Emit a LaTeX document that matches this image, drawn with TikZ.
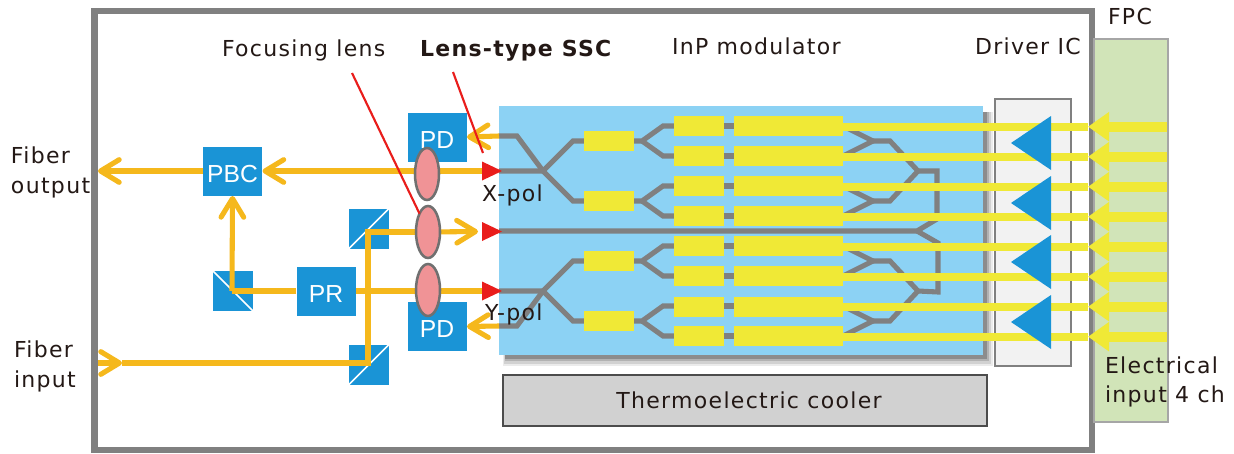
\documentclass[tikz,border=0pt]{standalone}
\usepackage{fontspec}
\setmainfont{DejaVu Sans}
\newfontfamily\lab[LetterSpace=6]{DejaVu Sans}
\newfontfamily\boxf{Liberation Sans}
\usetikzlibrary{arrows.meta,shapes.geometric}
\definecolor{frameg}{HTML}{808080}
\definecolor{fpcg}{HTML}{D1E4B8}
\definecolor{chipb}{HTML}{8CD2F4}
\definecolor{blk}{HTML}{1A94D6}
\definecolor{yel}{HTML}{F0E936}
\definecolor{org}{HTML}{F5B81C}
\definecolor{lensc}{HTML}{F09396}
\definecolor{lensg}{HTML}{707070}
\definecolor{redc}{HTML}{E91D1B}
\definecolor{txt}{HTML}{231815}
\tikzset{
  every node/.style={inner sep=0pt,outer sep=0pt},
  lbl/.style={text=txt,font=\lab\fontsize{16.5pt}{22.5pt}\selectfont,align=left},
  blockb/.style={fill=blk,draw=white,line width=0.4pt,text=white,font=\boxf\fontsize{18.5pt}{20pt}\selectfont,minimum width=45pt,minimum height=37.5pt,text height=17pt,text depth=0pt},
  splitb/.style={fill=blk,minimum width=30pt,minimum height=30pt},
  diag/.style={draw=white,line width=1.2pt},
  lensn/.style={ellipse,fill=lensc,draw=lensg,line width=1.9pt,minimum width=18pt,minimum height=39pt},
  smally/.style={fill=yel,minimum width=37.5pt,minimum height=15pt},
  largey/.style={fill=yel,minimum width=81.75pt,minimum height=15pt},
  wg/.style={draw=frameg,line width=3.8pt,line join=miter},
  beam/.style={draw=org,line width=3.8pt},
  beamarrow/.style={beam,-{Straight Barb[length=14pt,width=17pt,round]}},
  sigthin/.style={draw=yel,line width=6pt},
  sigin/.style={draw=yel,line width=7.5pt,-{Triangle[length=15.75pt,width=21pt]}},
  redl/.style={draw=redc,line width=1.6pt},
}
\begin{document}
\begin{tikzpicture}[x=0.75pt,y=-0.75pt]
\useasboundingbox (0,0) rectangle (1234,453);
% housing and carriers
\node[fill=white,draw=frameg,line width=4.8pt,minimum width=748pt,minimum height=329.25pt,anchor=north west] (housing) at (94.5,11) {};
\node[fill=fpcg,draw=black!35,line width=1.5pt,minimum width=55.5pt,minimum height=287.25pt,anchor=north west] (fpc) at (1094,39) {};
\node[fill=white!95!black,draw=frameg,line width=2.2pt,minimum width=57pt,minimum height=200.25pt,anchor=north west] (driver) at (995,99) {};
% chip shadow
\fill[black!8] (503,112) rectangle (993,366);
\fill[black!18] (504,112) rectangle (991,364);
\fill[black!30] (505,112) rectangle (989,361);
\fill[black!45] (505,112) rectangle (987,359);
\node[fill=chipb,minimum width=363pt,minimum height=186.75pt,anchor=north west] (chip) at (499,106) {};
\node[fill=black!18,draw=black!70,line width=1.5pt,minimum width=363pt,minimum height=38.25pt,anchor=north west,text=txt,font=\lab\fontsize{16.5pt}{20pt}\selectfont] (tec) at (503,375) {\hspace*{6pt}Thermoelectric cooler};
% waveguides
\coordinate (xin) at (499,171); \coordinate (xs) at (543,171);
\coordinate (yin) at (499,291); \coordinate (ys) at (543,291);
\coordinate (xm) at (499,136); \coordinate (ym) at (499,326);
\coordinate (lo) at (499,231); \coordinate (los) at (917,231);
\draw[wg] (xm) -- (517,136) -- (xs) -- (573,201) -- (584,201);
\draw[wg] (xin) -- (xs) -- (573,141) -- (584,141);
\draw[wg] (ym) -- (517,326) -- (ys) -- (573,261) -- (584,261);
\draw[wg] (yin) -- (ys) -- (573,321) -- (584,321);
\draw[wg] (lo) -- (los) -- (937,219) -- (937,171) -- (918,171);
\draw[wg] (los) -- (938,243) -- (938,292) -- (918,291);
\foreach \yc/\a/\b in {141/126/156,201/186/216,261/246/276,321/306/336}{
  \draw[wg] (633,\yc) -- (642,\yc) -- (663,\a) -- (674,\a);
  \draw[wg] (642,\yc) -- (663,\b) -- (674,\b);
  \draw[wg] (724,\a) -- (734,\a); \draw[wg] (724,\b) -- (734,\b);
  \draw[wg] (843,\a) -- (873,\yc) -- (843,\b);
}
\foreach \m/\t/\c in {918/141/171,918/201/171,918/261/291,918/321/291}{
  \draw[wg] (873,\t) -- (890,\t) -- (\m,\c);
}
% modulator pads
\foreach \n/\yc in {1/141,2/201,3/261,4/321}{ \node[smally] (ps\n) at (608.5,\yc) {}; }
\foreach \n/\yc in {1/126,2/156,3/186,4/216,5/246,6/276,7/306.5,8/336}{
  \node[smally] (sa\n) at (699,\yc) {};
  \node[largey] (la\n) at (788.5,\yc) {};
}
% electrical signals
\foreach \n/\yc in {1/126.7,2/156.7,3/186.7,4/216.7,5/246.7,6/276.7,7/306.7,8/336.7}{
  \coordinate (ei\n) at (1167,\yc);
  \coordinate (et\n) at (1088,\yc);
  \coordinate (em\n) at (843,\yc);
  \draw[sigthin] (et\n) -- (em\n);
  \draw[sigin] (ei\n) -- (et\n);
}
% driver triangles
\foreach \yc in {143,203,262,322}{
  \fill[blk] (1011,\yc) -- (1051,\yc-27) -- (1051,\yc+27) -- cycle;
}
% optical blocks
\node[splitb] (bsa) at (233,291) {};
\draw[diag] (bsa.north west) -- (bsa.south east);
\node[splitb] (bsb) at (368.5,229) {};
\draw[diag] (bsb.south west) -- (bsb.north east);
\node[splitb] (bsc) at (368.5,365) {};
\draw[diag] (bsc.south west) -- (bsc.north east);
\node[blockb] (pbc) at (232.5,171) {PBC};
\node[blockb] (pr) at (326,291) {PR};
\node[blockb] (pdx) at (437,137) {PD};
\node[blockb] (pdy) at (437,326.5) {PD};
% beams
\coordinate (fo) at (98,171); \coordinate (fi) at (98,363); \coordinate (fiarrow) at (122,363);
\coordinate (bsamid) at (232,291); \coordinate (bsbmid) at (368,232); \coordinate (bscmid) at (368,363);
\coordinate (rx) at (482,171); \coordinate (rl) at (482,231.5); \coordinate (ry) at (482,291);
\coordinate (lotip) at (478,231.5);
\draw[beamarrow] (pbc.west) -- (fo);
\draw[beamarrow] (rx) -- (pbc.east);
\draw[beamarrow] (bsamid) -- (pbc.south);
\draw[beam] (pr.west) -- (bsamid);
\draw[beam] (pr.east) -- (ry);
\draw[beamarrow] (fi) -- (fiarrow);
\draw[beam] (fiarrow) -- (bscmid) -- (bsbmid) -- (428,232);
\draw[beamarrow] (428,232) -- (lotip);
\draw[beamarrow] (xm) -- (pdx.east);
\draw[beamarrow] (ym) -- (pdy.east);
% lenses
\node[lensn] (l1) at (427,174) {};
\node[lensn] (l2) at (428,232) {};
\node[lensn] (l3) at (428,290) {};
% launch points
\fill[redc] (rx)+(0,-9.5) -- +(20,0) -- +(0,9.5) -- cycle;
\fill[redc] (rl)+(0,-9.5) -- +(20,0) -- +(0,9.5) -- cycle;
\fill[redc] (ry)+(0,-9.5) -- +(20,0) -- +(0,9.5) -- cycle;
% labels
\node[lbl,anchor=base west] (t1) at (222,56) {Focusing lens};
\node[lbl,anchor=base west,font=\lab\bfseries\fontsize{16.5pt}{20pt}\selectfont] (t2) at (420,56) {Lens-type SSC};
\node[lbl,anchor=base west] (t3) at (672,55) {InP modulator};
\node[lbl,anchor=base west] (t4) at (975,55) {Driver IC};
\node[lbl,anchor=base west] (t5) at (1108,25) {FPC};
\node[lbl,anchor=base west] (t6) at (482,201) {X-pol};
\node[lbl,anchor=base west] (t7) at (485,320) {Y-pol};
\node[lbl,anchor=base west] (t8) at (11,163) {Fiber};
\node[lbl,anchor=base west] (t9) at (11,193) {output};
\node[lbl,anchor=base west] (t10) at (14,357) {Fiber};
\node[lbl,anchor=base west] (t11) at (14,387) {input};
\node[lbl,anchor=base west] (t12) at (1105,373) {Electrical};
\node[lbl,anchor=base west] (t13) at (1105,402) {input 4 ch};
% leader lines
\draw[redl] (352,73) -- (l2.north west);
\draw[redl] (453,72) -- (483,153);
\end{tikzpicture}
\end{document}
